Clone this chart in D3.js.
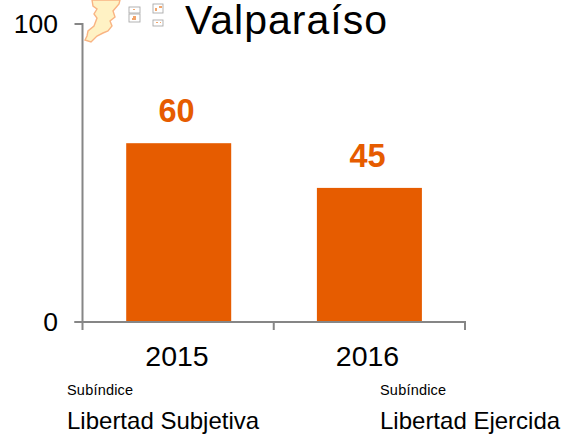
<!DOCTYPE html>
<html><head><meta charset="utf-8">
<script src="https://cdn.jsdelivr.net/npm/d3@7"></script>
<style>html,body{margin:0;padding:0;background:#fff}svg{display:block}text{font-family:"Liberation Sans",Arial,sans-serif}</style>
</head><body><svg id="c" width="562" height="434"></svg>
<script>
const categories = ["2015","2016"];
const values = [60,45];
const subLabels = ["Libertad Subjetiva","Libertad Ejercida"];
const subTitle = "Subíndice";
const title = "Valparaíso";
const yTicks = [0,100];
const mapOutline = "M92,0 L93,6 L97,9 L94,14 L97,18 L94,26 L88,31 L87,36 L85,40 L91,42 L97,36 L103,33 L108,31 L112,26 L110,21 L115,17 L113,11 L119,4 L120,0 Z";

const svg = d3.select("#c");
const y = d3.scaleLinear().domain([0,100]).range([322,24]);
const x = d3.scaleBand().domain(categories).range([82.5,465]);
const barW = 105;
const axisCol = "#868686", orange = "#E65C00";
const barCx = [178.7, 369.4];
const labelCx = [176.5, 367.5];
const tickCx = [177, 367.5];

// decorative map
svg.append("path").attr("d",mapOutline).attr("fill","#FFF2C4").attr("stroke","#F9B483").attr("stroke-width",1.4);
[[129,7,11,6],[129,14,11,8],[153,4,10,9],[153,20,10,6]].forEach(b=>{
  svg.append("rect").attr("x",b[0]).attr("y",b[1]).attr("width",b[2]).attr("height",b[3])
    .attr("fill","#fff").attr("stroke","#aaa").attr("stroke-width",0.9);
});
[[133,16,3,2],[132,18,4,2],[155,8,2,3],[159,6,3,2],[156,22,2,1],[160,22,1,1],[133,9,2,1]].forEach(b=>{
  svg.append("rect").attr("x",b[0]).attr("y",b[1]).attr("width",b[2]).attr("height",b[3]).attr("fill","#F2A56B");
});

// bars
svg.selectAll("rect.bar").data(values).join("rect").attr("class","bar")
  .attr("x",(d,i)=>barCx[i]-barW/2)
  .attr("width",barW).attr("y",d=>y(d)).attr("height",d=>y(0)-y(d)).attr("fill",orange);

// value labels
svg.selectAll("text.val").data(values).join("text").attr("class","val")
  .attr("x",(d,i)=>labelCx[i]).attr("y",d=>y(d)-21).attr("text-anchor","middle")
  .attr("font-size",32.5).attr("font-weight","bold").attr("fill",orange).text(d=>d);

// axes
const ax = svg.append("g").attr("fill","none").attr("stroke",axisCol).attr("stroke-width",2);
ax.append("line").attr("x1",x.range()[0]).attr("x2",x.range()[0]).attr("y1",y(100)-1).attr("y2",y(0)+8);
ax.append("line").attr("x1",x.range()[0]-8).attr("x2",x.range()[1]+1).attr("y1",y(0)).attr("y2",y(0));
yTicks.forEach(t=>ax.append("line").attr("x1",x.range()[0]-8).attr("x2",x.range()[0]).attr("y1",y(t)).attr("y2",y(t)));
categories.map(c=>x(c)+x.bandwidth()).forEach(p=>ax.append("line").attr("x1",p).attr("x2",p).attr("y1",y(0)).attr("y2",y(0)+8));

// tick labels
svg.selectAll("text.yt").data(yTicks).join("text").attr("class","yt")
  .attr("x",58).attr("y",d=>y(d)+8.8).attr("text-anchor","end").attr("font-size",26.5).attr("fill","#000").text(d=>d);
svg.selectAll("text.xt").data(categories).join("text").attr("class","xt")
  .attr("x",(d,i)=>tickCx[i]).attr("y",366).attr("text-anchor","middle")
  .attr("font-size",28.5).attr("fill","#000").text(d=>d);

// title
svg.append("text").attr("x",185).attr("y",34).attr("font-size",41).attr("letter-spacing",1).attr("fill","#000").text(title);

// sub labels
const subX = [67,380];
subLabels.forEach((s,i)=>{
  svg.append("text").attr("x",subX[i]).attr("y",395).attr("font-size",14.5).attr("letter-spacing",0.2).attr("fill","#000").text(subTitle);
  svg.append("text").attr("x",subX[i]).attr("y",429).attr("font-size",24).attr("fill","#000").text(s);
});
</script></body></html>
